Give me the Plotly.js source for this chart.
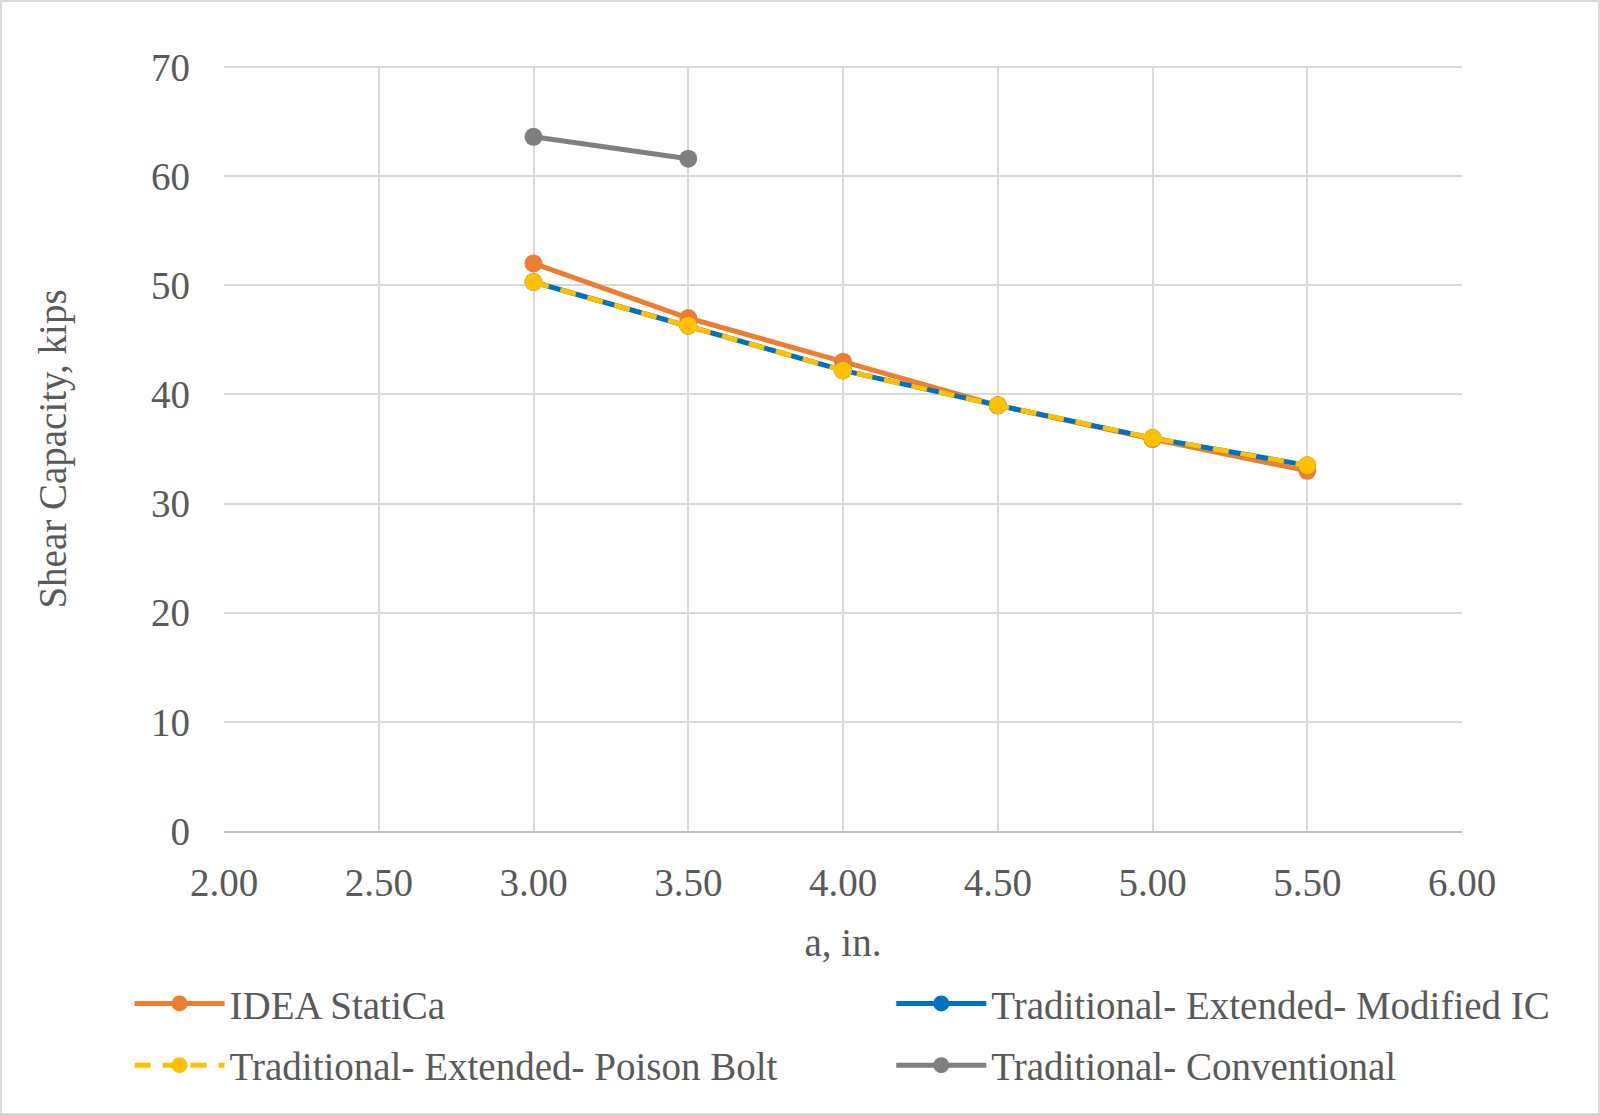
<!DOCTYPE html>
<html>
<head>
<meta charset="utf-8">
<script src="https://cdn.plot.ly/plotly-3.0.1.min.js"></script>
<style>
  html, body { margin: 0; padding: 0; background: #fff; }
  #chartBox { width: 1600px; height: 1115px; box-sizing: border-box; border: 2px solid #d9d9d9; }
</style>
</head>
<body>
<div id="chartBox"></div>
<script>
// a, in.
const aValues = [3.0, 3.5, 4.0, 4.5, 5.0, 5.5];
const aConventional = [3.0, 3.5];

// shear capacity, kips
const ideaStatiCa = [52.0, 47.0, 43.0, 39.0, 35.9, 33.0];
const modifiedIC = [50.3, 46.3, 42.2, 39.0, 36.0, 33.5];
const poisonBolt = [50.3, 46.3, 42.2, 39.0, 36.0, 33.5];
const conventional = [63.6, 61.6];

const xTicks = [2.0, 2.5, 3.0, 3.5, 4.0, 4.5, 5.0, 5.5, 6.0];
const xTickText = xTicks.map(v => v.toFixed(2));

const FONT = 'Liberation Serif, serif';
const TXT = '#595959';
const FS = 39;

function drawChart() {
    // legend: left column, legend2: right column
    const traces = [
        {
            name: 'IDEA StatiCa',
            x: aValues, y: ideaStatiCa,
            type: 'scatter', mode: 'lines+markers',
            line: { color: '#ED7D31', width: 5 },
            marker: { color: '#ED7D31', size: 18 },
            legend: 'legend', legendgroup: 'a',
        },
        {
            name: 'Traditional- Extended- Modified IC',
            x: aValues, y: modifiedIC,
            type: 'scatter', mode: 'lines+markers',
            line: { color: '#0070C0', width: 5 },
            marker: { color: '#0070C0', size: 18 },
            legend: 'legend2', legendgroup: 'b',
        },
        {
            name: 'Traditional- Extended- Poison Bolt',
            x: aValues, y: poisonBolt,
            type: 'scatter', mode: 'lines+markers',
            line: { color: '#FFC000', width: 5, dash: '16px,12px' },
            marker: { color: '#FFC000', size: 18 },
            legend: 'legend', legendgroup: 'c',
        },
        {
            name: 'Traditional- Conventional',
            x: aConventional, y: conventional,
            type: 'scatter', mode: 'lines+markers',
            line: { color: '#7F7F7F', width: 5 },
            marker: { color: '#7F7F7F', size: 18 },
            legend: 'legend2', legendgroup: 'd',
        },
    ];

    const legendBase = {
        orientation: 'v',
        yanchor: 'top',
        y: -0.184,
        itemwidth: 90,
        tracegroupgap: 8,
        font: { family: FONT, size: FS, color: TXT },
        bgcolor: 'rgba(0,0,0,0)',
    };

    const layout = {
        width: 1596,
        height: 1111,
        margin: { l: 222, r: 136, t: 65, b: 282 },
        paper_bgcolor: '#fff',
        plot_bgcolor: '#fff',
        font: { family: FONT, size: FS, color: TXT },
        showlegend: true,
        xaxis: {
            range: [2, 6],
            tickvals: xTicks,
            ticktext: xTickText,
            showgrid: true,
            gridcolor: '#d9d9d9',
            gridwidth: 2,
            zeroline: false,
            showline: true,
            linecolor: '#bfbfbf',
            linewidth: 2,
            ticks: '',
            ticklabelstandoff: 16,
            tickfont: { family: FONT, size: FS, color: TXT },
            title: { text: 'a, in.', font: { family: FONT, size: FS, color: TXT }, standoff: 26 },
        },
        yaxis: {
            range: [0, 70],
            dtick: 10,
            showgrid: true,
            gridcolor: '#d9d9d9',
            gridwidth: 2,
            zeroline: false,
            showline: false,
            ticks: '',
            ticklabelstandoff: 33,
            tickfont: { family: FONT, size: FS, color: TXT },
            title: { text: 'Shear Capacity, kips', font: { family: FONT, size: FS, color: TXT }, standoff: 72 },
        },
        // top edge of the plot area
        shapes: [{
            type: 'line', xref: 'paper', yref: 'paper',
            x0: 0, x1: 1, y0: 1, y1: 1,
            line: { color: '#d9d9d9', width: 2 },
            layer: 'below',
        }],
        legend: Object.assign({}, legendBase, { x: -0.0763, xanchor: 'left' }),
        legend2: Object.assign({}, legendBase, { x: 0.539, xanchor: 'left' }),
    };

    Plotly.newPlot('chartBox', traces, layout, { displayModeBar: false, staticPlot: true });
}

drawChart();
</script>
</body>
</html>
